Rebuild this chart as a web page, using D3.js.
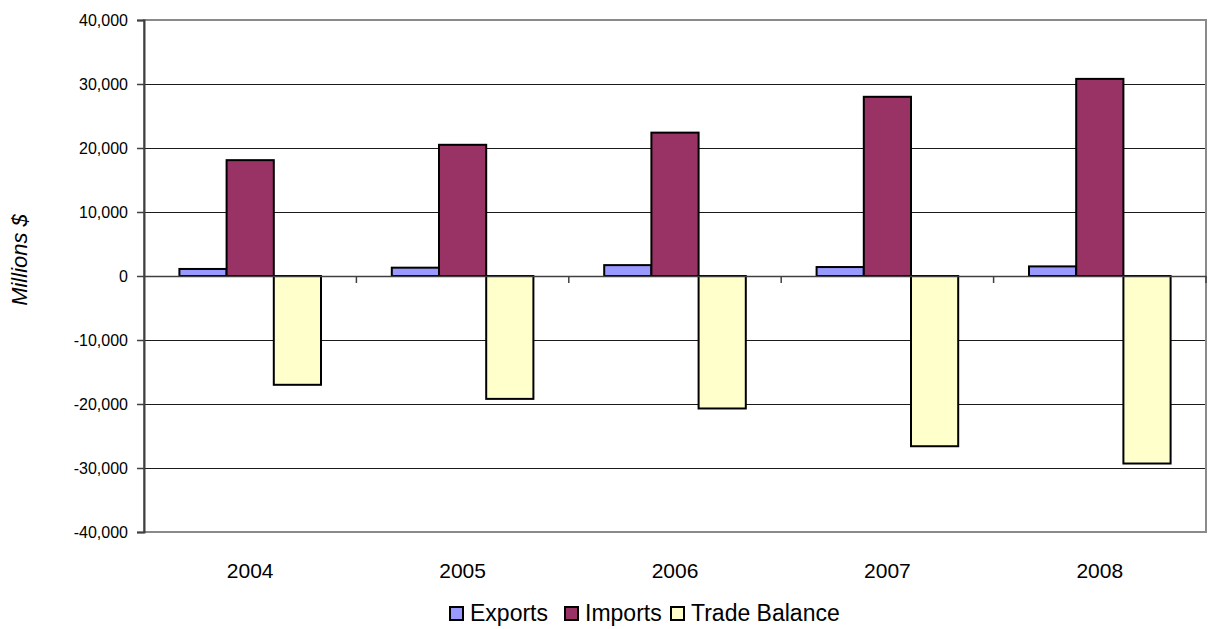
<!DOCTYPE html>
<html>
<head>
<meta charset="utf-8">
<script src="https://cdn.jsdelivr.net/npm/d3@7/dist/d3.min.js"></script>
<style>
  html, body { margin: 0; padding: 0; background: #fff; }
  svg { display: block; font-family: "Liberation Sans", Arial, sans-serif; }
</style>
</head>
<body>
<svg id="chart" width="1209" height="629"></svg>
<script>
// Annual trade figures, millions of dollars
const years = ["2004", "2005", "2006", "2007", "2008"];
const exportsVals = [1100, 1300, 1700, 1400, 1500];
const importsVals = [18100, 20500, 22400, 28000, 30800];
const balanceVals = [-17000, -19200, -20700, -26600, -29300];

const seriesNames = ["Exports", "Imports", "Trade Balance"];
const seriesColors = ["#9999FF", "#993366", "#FFFFCC"];
const yTicks = [-40000, -30000, -20000, -10000, 0, 10000, 20000, 30000, 40000];

const seriesValues = [exportsVals, importsVals, balanceVals];
const rows = years.map((y, i) => ({
  year: y,
  values: seriesNames.map((s, j) => ({ key: s, value: seriesValues[j][i], color: seriesColors[j] }))
}));

const svg = d3.select("#chart");
const plot = { left: 144, right: 1206, top: 20, bottom: 532 };

const x0 = d3.scaleBand().domain(years).range([plot.left, plot.right]).paddingInner(0).paddingOuter(0);
const x1 = d3.scaleBand().domain(seriesNames).range([0, x0.bandwidth()]).paddingInner(0).paddingOuter(0.75);
const y = d3.scaleLinear().domain([-40000, 40000]).range([plot.bottom, plot.top]);

// thousands separators with a plain hyphen for negatives
const fmt = d3.formatLocale({ decimal: ".", thousands: ",", grouping: [3], currency: ["$", ""], minus: "-" }).format(",");

// horizontal gridlines
svg.append("g")
  .selectAll("line")
  .data(yTicks.filter(t => t !== 40000 && t !== -40000))
  .join("line")
  .attr("x1", plot.left).attr("x2", plot.right)
  .attr("y1", d => Math.round(y(d)) + 0.5).attr("y2", d => Math.round(y(d)) + 0.5)
  .attr("stroke", "#1a1a1a").attr("stroke-width", 1);

// plot frame
svg.append("rect")
  .attr("x", plot.left).attr("y", plot.top)
  .attr("width", plot.right - plot.left).attr("height", plot.bottom - plot.top)
  .attr("fill", "none").attr("stroke", "#8a8a8a").attr("stroke-width", 2);

// bars
const groups = svg.append("g")
  .selectAll("g")
  .data(rows)
  .join("g")
  .attr("transform", d => `translate(${x0(d.year)},0)`);

groups.selectAll("rect")
  .data(d => d.values)
  .join("rect")
  .attr("x", d => x1(d.key))
  .attr("width", x1.bandwidth())
  .attr("y", d => y(Math.max(0, d.value)))
  .attr("height", d => Math.abs(y(d.value) - y(0)))
  .attr("fill", d => d.color)
  .attr("stroke", "#000")
  .attr("stroke-width", 2);

// y axis
const yAxis = d3.axisLeft(y).tickValues(yTicks).tickSize(7).tickPadding(9).tickFormat(fmt);
const gy = svg.append("g").attr("transform", `translate(${plot.left},0)`).call(yAxis);
gy.select(".domain").attr("stroke", "#404040").attr("stroke-width", 2);
gy.selectAll(".tick line").attr("stroke", "#404040").attr("stroke-width", 1.5);
gy.selectAll(".tick text").attr("font-size", 16).attr("fill", "#000")
  .attr("font-family", "'Liberation Sans', Arial, sans-serif");

// category axis along zero
const xAxis = d3.axisBottom(x0).tickSize(0).tickPadding(0);
const gx = svg.append("g").attr("transform", `translate(0,${y(0)})`).call(xAxis);
gx.select(".domain").attr("stroke", "#404040").attr("stroke-width", 1.5);
gx.selectAll(".tick text").remove();

// boundary ticks between categories
svg.append("g")
  .selectAll("line")
  .data(years.slice(1).concat(["end"]))
  .join("line")
  .attr("x1", d => d === "end" ? plot.right : x0(d))
  .attr("x2", d => d === "end" ? plot.right : x0(d))
  .attr("y1", y(0)).attr("y2", y(0) + 7)
  .attr("stroke", "#404040").attr("stroke-width", 1.5);

// category labels below the frame
svg.append("g")
  .selectAll("text")
  .data(years)
  .join("text")
  .attr("x", d => x0(d) + x0.bandwidth() / 2)
  .attr("y", 578)
  .attr("text-anchor", "middle")
  .attr("font-size", 21)
  .text(d => d);

// y-axis title
svg.append("text")
  .attr("transform", `translate(27,260) rotate(-90)`)
  .attr("text-anchor", "middle")
  .attr("font-size", 22)
  .attr("font-style", "italic")
  .text("Millions $");

// legend
const legendX = [450, 565, 671];
const leg = svg.append("g")
  .selectAll("g")
  .data(seriesNames)
  .join("g")
  .attr("transform", (d, i) => `translate(${legendX[i]},607)`);
leg.append("rect")
  .attr("width", 13).attr("height", 13)
  .attr("fill", (d, i) => seriesColors[i])
  .attr("stroke", "#000").attr("stroke-width", 2);
leg.append("text")
  .attr("x", 20).attr("y", 14)
  .attr("font-size", 23)
  .text(d => d);
</script>
</body>
</html>
